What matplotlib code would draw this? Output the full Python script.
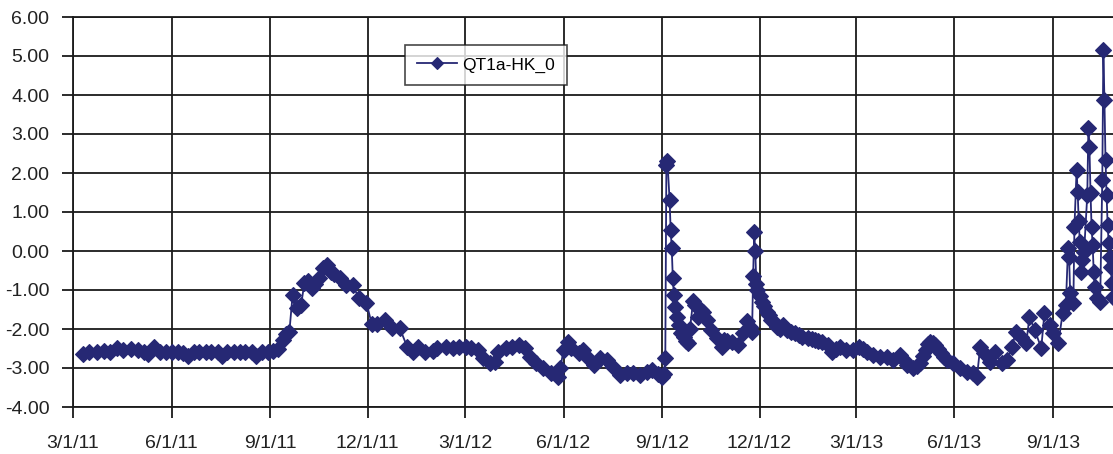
import matplotlib
matplotlib.use("Agg")
import matplotlib.pyplot as plt
import pandas as pd

series_name = "QT1a-HK_0"

dates = [
    '2011-03-10','2011-03-16','2011-03-23','2011-03-30','2011-04-05','2011-04-11','2011-04-17','2011-04-24',
    '2011-05-01','2011-05-06','2011-05-10','2011-05-16','2011-05-21','2011-05-27','2011-06-01','2011-06-07',
    '2011-06-12','2011-06-16','2011-06-22','2011-06-27','2011-07-03','2011-07-08','2011-07-14','2011-07-18',
    '2011-07-23','2011-07-29','2011-08-04','2011-08-09','2011-08-15','2011-08-19','2011-08-24','2011-08-30',
    '2011-09-04','2011-09-08','2011-09-13','2011-09-16','2011-09-19','2011-09-22','2011-09-26','2011-09-30',
    '2011-10-03','2011-10-06','2011-10-10','2011-10-13','2011-10-17','2011-10-20','2011-10-24','2011-10-28',
    '2011-10-31','2011-11-05','2011-11-11','2011-11-17','2011-11-23','2011-11-30','2011-12-05','2011-12-10',
    '2011-12-17','2011-12-24','2011-12-31','2012-01-07','2012-01-12','2012-01-17','2012-01-24','2012-01-31',
    '2012-02-04','2012-02-12','2012-02-19','2012-02-24','2012-03-02','2012-03-07','2012-03-13','2012-03-18',
    '2012-03-24','2012-03-29','2012-04-01','2012-04-08','2012-04-14','2012-04-20','2012-04-26','2012-05-01',
    '2012-05-06','2012-05-13','2012-05-20','2012-05-27','2012-05-29','2012-06-01','2012-06-05','2012-06-08',
    '2012-06-15','2012-06-19','2012-06-23','2012-06-29','2012-07-05','2012-07-12','2012-07-17','2012-07-24',
    '2012-07-30','2012-08-05','2012-08-11','2012-08-18','2012-08-23','2012-08-28','2012-09-01','2012-09-03',
    '2012-09-04','2012-09-05','2012-09-06','2012-09-08','2012-09-09','2012-09-10','2012-09-11','2012-09-12',
    '2012-09-13','2012-09-15','2012-09-17','2012-09-19','2012-09-21','2012-09-23','2012-09-25','2012-09-27',
    '2012-09-30','2012-10-02','2012-10-05','2012-10-07','2012-10-09','2012-10-13','2012-10-17','2012-10-22',
    '2012-10-27','2012-10-29','2012-11-01','2012-11-05','2012-11-11','2012-11-16','2012-11-19','2012-11-22',
    '2012-11-24','2012-11-25','2012-11-26','2012-11-27','2012-11-28','2012-11-29','2012-12-01','2012-12-03',
    '2012-12-05','2012-12-08','2012-12-10','2012-12-12','2012-12-15','2012-12-17','2012-12-20','2012-12-23',
    '2012-12-27','2012-12-30','2013-01-03','2013-01-07','2013-01-10','2013-01-15','2013-01-19','2013-01-22',
    '2013-01-25','2013-01-28','2013-02-03','2013-02-07','2013-02-10','2013-02-14','2013-02-20','2013-02-26',
    '2013-03-04','2013-03-08','2013-03-11','2013-03-17','2013-03-23','2013-03-30','2013-04-05','2013-04-11',
    '2013-04-15','2013-04-18','2013-04-23','2013-04-27','2013-04-30','2013-05-03','2013-05-05','2013-05-07',
    '2013-05-09','2013-05-12','2013-05-14','2013-05-17','2013-05-19','2013-05-22','2013-05-25','2013-05-31',
    '2013-06-06','2013-06-13','2013-06-18','2013-06-22','2013-06-25','2013-06-29','2013-07-04','2013-07-09',
    '2013-07-15','2013-07-20','2013-07-25','2013-07-28','2013-08-02','2013-08-07','2013-08-10','2013-08-15',
    '2013-08-21','2013-08-24','2013-08-29','2013-09-01','2013-09-06','2013-09-10','2013-09-13','2013-09-15',
    '2013-09-16','2013-09-17','2013-09-20','2013-09-21','2013-09-23','2013-09-24','2013-09-25','2013-09-26',
    '2013-09-27','2013-09-28','2013-09-30','2013-10-03','2013-10-04','2013-10-05','2013-10-06','2013-10-07',
    '2013-10-08','2013-10-09','2013-10-10','2013-10-12','2013-10-15','2013-10-17','2013-10-18','2013-10-19',
    '2013-10-20','2013-10-21','2013-10-22','2013-10-23','2013-10-24','2013-10-25','2013-10-26','2013-10-27',
    '2013-10-28',
]

values = [
    -2.65, -2.58, -2.58, -2.57, -2.58, -2.49, -2.54, -2.52,
    -2.55, -2.60, -2.64, -2.47, -2.58, -2.58, -2.60, -2.60,
    -2.62, -2.68, -2.60, -2.60, -2.60, -2.60, -2.60, -2.68,
    -2.58, -2.58, -2.60, -2.60, -2.60, -2.68, -2.58, -2.58,
    -2.56, -2.52, -2.28, -2.13, -2.08, -1.13, -1.46, -1.38,
    -0.82, -0.78, -0.95, -0.85, -0.70, -0.44, -0.36, -0.54,
    -0.60, -0.70, -0.87, -0.87, -1.21, -1.33, -1.88, -1.87,
    -1.77, -1.97, -1.97, -2.46, -2.59, -2.46, -2.59, -2.57,
    -2.49, -2.46, -2.49, -2.46, -2.46, -2.48, -2.54, -2.74,
    -2.87, -2.84, -2.59, -2.49, -2.46, -2.41, -2.48, -2.72,
    -2.87, -3.00, -3.13, -3.23, -3.00, -2.54, -2.33, -2.49,
    -2.62, -2.55, -2.72, -2.92, -2.74, -2.79, -2.97, -3.18,
    -3.13, -3.13, -3.18, -3.10, -3.05, -3.15, -3.22, -3.15,
    -2.74, 2.20, 2.30, 1.31, 0.54, 0.08, -0.69, -1.13,
    -1.44, -1.69, -1.90, -2.10, -2.20, -2.30, -2.36, -2.00,
    -1.28, -1.38, -1.69, -1.50, -1.56, -1.77, -2.03, -2.23,
    -2.46, -2.28, -2.30, -2.33, -2.41, -2.10, -1.80, -1.95,
    -2.08, -0.65, 0.48, 0.00, -0.85, -1.00, -1.15, -1.31,
    -1.40, -1.56, -1.65, -1.77, -1.85, -1.95, -2.00, -1.90,
    -2.03, -2.08, -2.10, -2.15, -2.20, -2.23, -2.25, -2.28,
    -2.30, -2.33, -2.41, -2.59, -2.50, -2.46, -2.54, -2.54,
    -2.46, -2.52, -2.59, -2.67, -2.72, -2.72, -2.79, -2.67,
    -2.80, -2.92, -3.00, -2.95, -2.87, -2.70, -2.54, -2.38,
    -2.33, -2.36, -2.41, -2.52, -2.62, -2.72, -2.79, -2.87,
    -3.00, -3.10, -3.13, -3.23, -2.46, -2.62, -2.85, -2.59,
    -2.87, -2.79, -2.46, -2.08, -2.20, -2.36, -1.69, -2.03,
    -2.49, -1.59, -1.90, -2.10, -2.36, -1.59, -1.38, 0.08,
    -0.15, -1.08, -1.33, 0.62, 2.08, 1.51, 0.77, 0.23,
    -0.54, -0.23, -0.03, 1.44, 3.15, 2.67, 1.49, 0.62,
    0.15, -0.54, -0.92, -1.20, -1.30, 1.82, 5.15, 3.87,
    2.33, 1.44, 0.67, 0.20, -0.15, -0.41, -0.82, -1.18,
    -1.20,
]

tick_dates = ['2011-03-01', '2011-06-01', '2011-09-01', '2011-12-01', '2012-03-01', '2012-06-01',
              '2012-09-01', '2012-12-01', '2013-03-01', '2013-06-01', '2013-09-01']
tick_labels = ['3/1/11', '6/1/11', '9/1/11', '12/1/11', '3/1/12', '6/1/12',
               '9/1/12', '12/1/12', '3/1/13', '6/1/13', '9/1/13']
y_ticks = [-4, -3, -2, -1, 0, 1, 2, 3, 4, 5, 6]
y_labels = ['-4.00', '-3.00', '-2.00', '-1.00', '0.00', '1.00', '2.00', '3.00', '4.00', '5.00', '6.00']

plt.rcParams['font.family'] = ['Liberation Sans', 'DejaVu Sans']

fig = plt.figure(figsize=(11.13, 4.54), dpi=100)
ax = fig.add_axes([73 / 1113, 47 / 454, 1 - 73 / 1113, 390 / 454])

x = pd.to_datetime(dates)
color = '#262874'
ax.plot(x, values, color=color, lw=1.3, marker='D', markersize=7.8,
        markerfacecolor=color, markeredgecolor=color, markeredgewidth=0.8,
        label=series_name, zorder=3)

ax.set_ylim(-4, 6)
ax.set_xlim(pd.Timestamp('2011-03-01'), pd.Timestamp('2013-10-27'))
ax.set_yticks(y_ticks)
ax.set_yticklabels(y_labels)
ax.set_xticks(pd.to_datetime(tick_dates))
ax.set_xticklabels(tick_labels)

ax.grid(True, color='#1a1a1a', lw=1.3, zorder=1)
ax.tick_params(axis='both', which='both', length=8, width=1.3, color='#1a1a1a',
               labelsize=14, labelcolor='#222222')
ax.tick_params(axis='y', pad=9)
ax.tick_params(axis='x', pad=12)
for side in ['left', 'top', 'bottom']:
    ax.spines[side].set_color('#1a1a1a')
    ax.spines[side].set_linewidth(1.3)
ax.spines['right'].set_visible(False)

leg = ax.legend(loc='upper left', bbox_to_anchor=(0.319, 0.928), borderaxespad=0,
                fontsize=12.5, frameon=True, fancybox=False, shadow=False,
                handlelength=2.3, borderpad=0.7, handletextpad=0.3, markerscale=0.8)
leg.get_frame().set_edgecolor('#1a1a1a')
leg.get_frame().set_linewidth(1.2)
leg.set_zorder(5)

fig.savefig('out.png', dpi=100)
